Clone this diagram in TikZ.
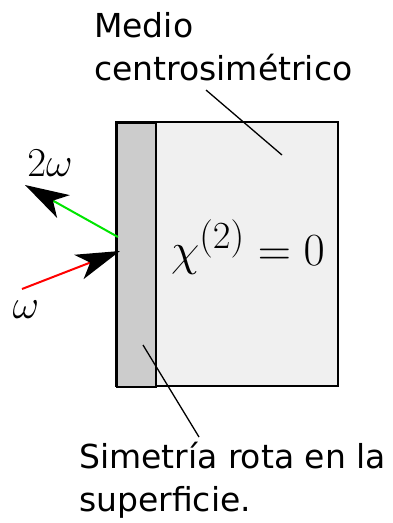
\documentclass[tikz,border=0pt]{standalone}
\usepackage{fontspec}
\setsansfont{DejaVu Sans}
\usetikzlibrary{arrows.meta}
\begin{document}
\begin{tikzpicture}[x=1pt,y=-1pt,
  lbl/.style={font=\sffamily\fontsize{33}{40}\selectfont, anchor=base west, inner sep=0pt},
  leader/.style={line width=1.3pt},
  wlbl/.style={inner sep=0pt, font=\Huge, scale=1.65},
  bigtip/.style={-{Stealth[length=44pt,width=26pt,inset=12pt,black]}, line width=2pt}]
\useasboundingbox (0,0) rectangle (392,523);
\path[fill=black!6, draw, line width=2pt] (116,122) rectangle (338,386);
\node[draw, line width=2pt, fill=black!20, minimum width=39pt, minimum height=264pt, inner sep=0pt, anchor=north west] (strip) at (116,122) {};
\node[anchor=center, inner sep=0pt, font=\Huge, scale=1.85] (chi) at (248,247) {$\chi^{(2)}=0$};
\node[lbl] (medio) at (94,37) {Medio};
\node[lbl] (centro) at (94,80) {centrosimétrico};
\node[lbl] (sim) at (79,468) {Simetría rota en la};
\node[lbl] (sup) at (79,511) {superficie.};
\coordinate (m1) at (206,90); \coordinate (m2) at (282,155);
\draw[leader] (m1) -- (m2);
\coordinate (s1) at (143,345); \coordinate (s2) at (199,437);
\draw[leader] (s1) -- (s2);
\coordinate (gs) at (118,237); \coordinate (gt) at (25,185);
\draw[bigtip, draw=green!90!black] (gs) -- (gt);
\coordinate (rs) at (22,289); \coordinate (rt) at (120,251);
\draw[bigtip, draw=red] (rs) -- (rt);
\node[wlbl] (w2) at (50,163) {$2\omega$};
\node[wlbl] (w1) at (26,310) {$\omega$};
\end{tikzpicture}
\end{document}
